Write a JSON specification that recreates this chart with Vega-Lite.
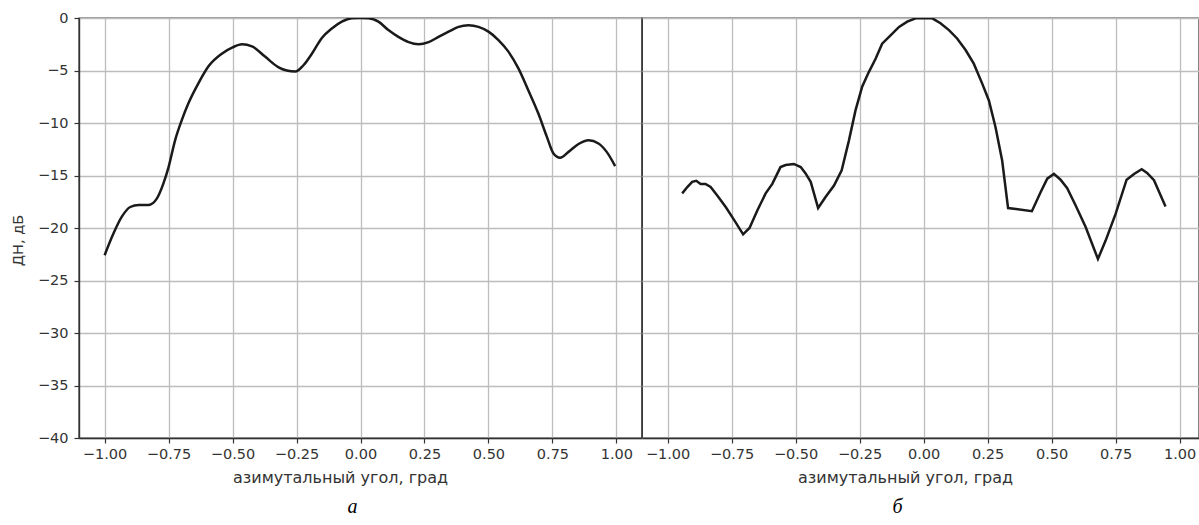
{
  "$schema": "https://vega.github.io/schema/vega-lite/v6.json",
  "background": "white",
  "padding": {"left": 9, "top": 9, "right": 0, "bottom": 0},
  "spacing": 0,
  "bounds": "flush",
  "config": {
    "font": "DejaVu Sans",
    "view": {"stroke": "#333333", "strokeWidth": 1.4},
    "axis": {
      "labelFont": "DejaVu Sans", "labelFontSize": 14.5, "labelColor": "#333333",
      "titleFont": "DejaVu Sans", "titleFontSize": 16, "titleFontWeight": "normal", "titleColor": "#333333",
      "domainColor": "#333333", "domainWidth": 1.4,
      "tickColor": "#333333", "tickSize": 5, "tickWidth": 1.2,
      "gridColor": "#bdbdbd", "gridWidth": 1.3, "gridOpacity": 1
    },
    "title": {"font": "Liberation Serif", "fontStyle": "italic", "fontWeight": "normal", "fontSize": 20, "color": "#000000"}
  },
  "datasets": {
    "a": [
      {"x": -1.0, "y": -22.6}, {"x": -0.965, "y": -20.5}, {"x": -0.932, "y": -18.9}, {"x": -0.9, "y": -18.0},
      {"x": -0.867, "y": -17.8}, {"x": -0.828, "y": -17.8}, {"x": -0.796, "y": -17.2}, {"x": -0.77, "y": -15.75},
      {"x": -0.75, "y": -14.2}, {"x": -0.724, "y": -11.6}, {"x": -0.698, "y": -9.7}, {"x": -0.672, "y": -8.1},
      {"x": -0.633, "y": -6.2}, {"x": -0.594, "y": -4.6}, {"x": -0.542, "y": -3.4}, {"x": -0.5, "y": -2.8},
      {"x": -0.463, "y": -2.5}, {"x": -0.424, "y": -2.7}, {"x": -0.372, "y": -3.7}, {"x": -0.32, "y": -4.7},
      {"x": -0.288, "y": -5.0}, {"x": -0.255, "y": -5.1}, {"x": -0.223, "y": -4.5}, {"x": -0.19, "y": -3.4},
      {"x": -0.151, "y": -1.9}, {"x": -0.112, "y": -1.0}, {"x": -0.073, "y": -0.35}, {"x": -0.034, "y": -0.03},
      {"x": 0.0, "y": 0.0}, {"x": 0.031, "y": -0.03}, {"x": 0.07, "y": -0.35}, {"x": 0.109, "y": -1.15},
      {"x": 0.148, "y": -1.8}, {"x": 0.188, "y": -2.3}, {"x": 0.227, "y": -2.5}, {"x": 0.266, "y": -2.3},
      {"x": 0.305, "y": -1.8}, {"x": 0.344, "y": -1.3}, {"x": 0.383, "y": -0.85}, {"x": 0.422, "y": -0.7},
      {"x": 0.461, "y": -0.85}, {"x": 0.5, "y": -1.3}, {"x": 0.539, "y": -2.1}, {"x": 0.578, "y": -3.2},
      {"x": 0.617, "y": -4.8}, {"x": 0.656, "y": -6.9}, {"x": 0.695, "y": -9.1}, {"x": 0.728, "y": -11.3},
      {"x": 0.754, "y": -12.9}, {"x": 0.78, "y": -13.3}, {"x": 0.813, "y": -12.75}, {"x": 0.852, "y": -12.0},
      {"x": 0.891, "y": -11.65}, {"x": 0.93, "y": -11.95}, {"x": 0.962, "y": -12.75}, {"x": 0.995, "y": -14.1}
    ],
    "b": [
      {"x": -0.943, "y": -16.7}, {"x": -0.923, "y": -16.1}, {"x": -0.904, "y": -15.6}, {"x": -0.888, "y": -15.5},
      {"x": -0.871, "y": -15.8}, {"x": -0.852, "y": -15.8}, {"x": -0.832, "y": -16.1}, {"x": -0.806, "y": -16.9},
      {"x": -0.773, "y": -18.0}, {"x": -0.741, "y": -19.2}, {"x": -0.705, "y": -20.6}, {"x": -0.68, "y": -20.0},
      {"x": -0.65, "y": -18.35}, {"x": -0.617, "y": -16.7}, {"x": -0.591, "y": -15.8}, {"x": -0.559, "y": -14.2},
      {"x": -0.539, "y": -14.0}, {"x": -0.507, "y": -13.9}, {"x": -0.48, "y": -14.2}, {"x": -0.461, "y": -14.8},
      {"x": -0.441, "y": -15.6}, {"x": -0.412, "y": -18.1}, {"x": -0.383, "y": -17.05}, {"x": -0.35, "y": -15.95},
      {"x": -0.32, "y": -14.5}, {"x": -0.292, "y": -11.7}, {"x": -0.266, "y": -8.8}, {"x": -0.24, "y": -6.55},
      {"x": -0.214, "y": -5.15}, {"x": -0.188, "y": -3.9}, {"x": -0.162, "y": -2.45}, {"x": -0.129, "y": -1.65},
      {"x": -0.096, "y": -0.85}, {"x": -0.064, "y": -0.35}, {"x": -0.031, "y": -0.03}, {"x": 0.0, "y": 0.0},
      {"x": 0.034, "y": -0.03}, {"x": 0.066, "y": -0.5}, {"x": 0.099, "y": -1.15}, {"x": 0.131, "y": -1.95},
      {"x": 0.164, "y": -3.05}, {"x": 0.196, "y": -4.35}, {"x": 0.229, "y": -6.25}, {"x": 0.255, "y": -7.85},
      {"x": 0.281, "y": -10.4}, {"x": 0.307, "y": -13.6}, {"x": 0.33, "y": -18.1}, {"x": 0.423, "y": -18.4},
      {"x": 0.457, "y": -16.6}, {"x": 0.483, "y": -15.3}, {"x": 0.509, "y": -14.85}, {"x": 0.535, "y": -15.4},
      {"x": 0.561, "y": -16.2}, {"x": 0.594, "y": -17.85}, {"x": 0.633, "y": -19.9}, {"x": 0.681, "y": -22.95},
      {"x": 0.711, "y": -21.2}, {"x": 0.75, "y": -18.65}, {"x": 0.793, "y": -15.4}, {"x": 0.822, "y": -14.85},
      {"x": 0.852, "y": -14.4}, {"x": 0.873, "y": -14.75}, {"x": 0.9, "y": -15.45}, {"x": 0.945, "y": -17.95}
    ]
  },
  "hconcat": [
    {
      "width": 563, "height": 420,
      "data": {"name": "a"},
      "title": {"text": "а", "orient": "bottom", "anchor": "middle", "dx": -8, "offset": 12},
      "mark": {"type": "line", "color": "#1a1a1a", "strokeWidth": 2.5, "clip": true, "interpolate": "monotone"},
      "encoding": {
        "x": {"field": "x", "type": "quantitative",
              "scale": {"domain": [-1.1, 1.1], "nice": false, "zero": false},
              "axis": {"values": [-1, -0.75, -0.5, -0.25, 0, 0.25, 0.5, 0.75, 1], "format": ".2f",
                       "labelPadding": 4, "title": "азимутальный угол, град",
                       "titleX": 261, "titleY": 44, "titleBaseline": "alphabetic", "titleAlign": "center"}},
        "y": {"field": "y", "type": "quantitative",
              "scale": {"domain": [-40, 0], "nice": false},
              "axis": {"values": [-40, -35, -30, -25, -20, -15, -10, -5, 0], "format": "d",
                       "labelPadding": 6, "title": "ДН, дБ", "titleFontSize": 14.5,
                       "titleX": -61, "titleY": 222, "titleAlign": "center", "titleBaseline": "middle", "titleAngle": -90}}
      }
    },
    {
      "width": 557, "height": 420,
      "data": {"name": "b"},
      "title": {"text": "б", "orient": "bottom", "anchor": "middle", "dx": -23, "offset": 12},
      "mark": {"type": "line", "color": "#1a1a1a", "strokeWidth": 2.5, "clip": true},
      "encoding": {
        "x": {"field": "x", "type": "quantitative",
              "scale": {"domain": [-1.1, 1.0758], "nice": false, "zero": false},
              "axis": {"values": [-1, -0.75, -0.5, -0.25, 0, 0.25, 0.5, 0.75, 1], "format": ".2f",
                       "labelPadding": 4, "title": "азимутальный угол, град",
                       "titleX": 263, "titleY": 44, "titleBaseline": "alphabetic", "titleAlign": "center"}},
        "y": {"field": "y", "type": "quantitative",
              "scale": {"domain": [-40, 0], "nice": false},
              "axis": {"values": [-40, -35, -30, -25, -20, -15, -10, -5, 0],
                       "labels": false, "ticks": false, "domain": false, "title": null}}
      }
    }
  ]
}
